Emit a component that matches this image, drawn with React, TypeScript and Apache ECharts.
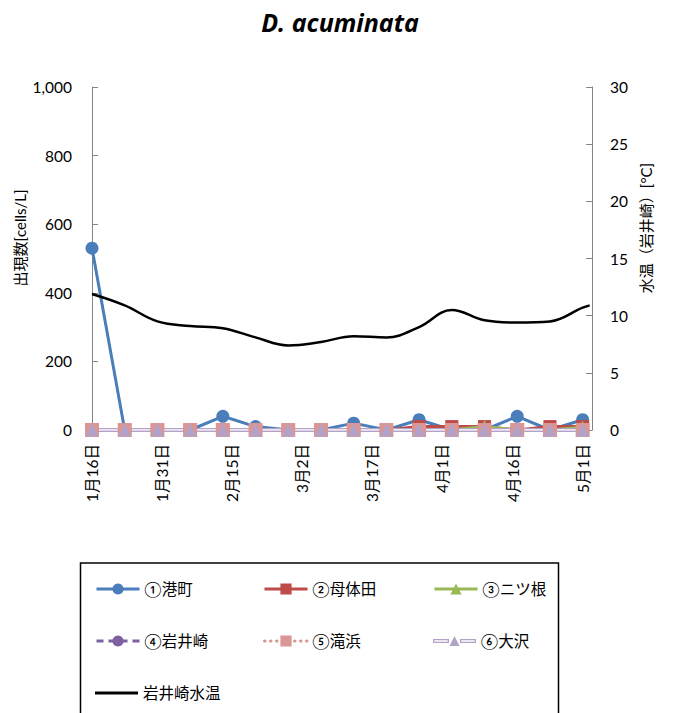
import React, { useEffect, useRef } from "react";
import * as echarts from "echarts";

// Sampling days counted from 1月16日 (weekly)
const sampleDays = [0, 7, 14, 21, 28, 35, 42, 49, 56, 63, 70, 77, 84, 91, 98, 105];
const minatomachi = [530, 0, 0, 0, 40, 10, 0, 0, 20, 0, 30, 0, 0, 40, 0, 30];
const motaida = [0, 0, 0, 0, 0, 0, 0, 0, 0, 0, 10, 10, 10, 0, 10, 10];
const futatsune = [0, 0, 0, 0, 0, 0, 0, 0, 0, 0, 0, 0, 10, 0, 0, 8];
const iwaisaki = [0, 0, 0, 0, 0, 0, 0, 0, 0, 0, 0, 0, 0, 0, 0, 0];
const takihama = [0, 0, 0, 0, 0, 0, 0, 0, 0, 0, 0, 0, 0, 0, 0, 0];
const osawa = [0, 0, 0, 0, 0, 0, 0, 0, 0, 0, 0, 0, 0, 0, 0, 0];

const tempDays = [0, 7, 14, 21, 28, 35, 42, 49, 56, 63, 70, 77, 84, 91, 98, 105, 106.5];
const tempValues = [11.9, 10.9, 9.5, 9.1, 8.9, 8.1, 7.4, 7.7, 8.2, 8.1, 9.0, 10.5, 9.6, 9.4, 9.5, 10.7, 10.9];

const seriesNames = ["①港町", "②母体田", "③ニツ根", "④岩井崎", "⑤滝浜", "⑥大沢", "岩井崎水温"];
const titleText = "D. acuminata";
const leftAxisName = "出現数[cells/L]";
const rightAxisName = "水温（岩井崎）[°C]";

const FONT = "Lato, 'Noto Sans CJK JP', sans-serif";

function dayLabel(d: number): string {
  const dt = new Date(2015, 0, 16 + d);
  return `${dt.getMonth() + 1}月${dt.getDate()}日`;
}

function pairs(xs: number[], ys: number[]) {
  return xs.map((x, i) => [x, ys[i]]);
}

const osawaIcon =
  "path://M0,3 H16 V7 H0 Z M1.3,4.3 V5.7 H14.7 V4.3 Z M27,3 H43 V7 H27 Z M28.3,4.3 V5.7 H41.7 V4.3 Z M16.5,10 L21.5,0 L26.5,10 Z";
const tempIcon = "path://M0,0 H43 V3 H0 Z";

export default function App() {
  const ref = useRef<HTMLDivElement>(null);
  useEffect(() => {
    if (!ref.current) return;
    const chart = echarts.init(ref.current, undefined, { renderer: "svg" });

    const colX = [95, 263, 433];
    const rowY = [589, 641, 693];
    const legendPos = [
      [0, 0], [1, 0], [2, 0],
      [0, 1], [1, 1], [2, 1],
      [0, 2],
    ];
    const legends = seriesNames.map((name, i) => {
      const [c, r] = legendPos[i];
      const item: any = { name };
      if (i === 5) {
        item.icon = osawaIcon;
        item.itemStyle = { color: "#B3A2C7", borderWidth: 0 };
      }
      if (i === 6) {
        item.icon = tempIcon;
        item.itemStyle = { color: "#000000", borderWidth: 0 };
      }
      return {
        data: [item],
        left: colX[c],
        top: rowY[r] - 9,
        padding: 0,
        itemWidth: 43,
        itemHeight: 14,
        selectedMode: false,
        lineStyle: { width: 3 },
        textStyle: { fontSize: 15.5, color: "#000", fontFamily: FONT, lineHeight: 18 },
      };
    });

    const axisLineStyle = { color: "#868686", width: 1 };

    chart.setOption({
      animation: false,
      backgroundColor: "#ffffff",
      title: {
        text: titleText,
        left: 335,
        textAlign: "center",
        top: 4,
        textStyle: {
          fontSize: 25,
          fontStyle: "italic",
          fontWeight: "bold",
          color: "#000",
          fontFamily: "'Open Sans', sans-serif",
        },
      },
      legend: legends,
      grid: {
        left: 92,
        right: 88,
        top: 87,
        bottom: 283,
        containLabel: false,
        outerBoundsMode: "none",
      },
      xAxis: {
        type: "value",
        min: 0,
        max: 107,
        interval: 15,
        axisLine: { show: true, lineStyle: axisLineStyle },
        axisTick: { show: false },
        splitLine: { show: false },
        axisLabel: {
          rotate: 90,
          margin: 14,
          fontSize: 15.5,
          color: "#000",
          fontFamily: FONT,
          showMaxLabel: false,
          formatter: (v: number) => (Math.abs(v % 15) < 1e-6 ? dayLabel(v) : ""),
        },
      },
      yAxis: [
        {
          type: "value",
          position: "left",
          min: 0,
          max: 1000,
          interval: 200,
          axisLine: { show: true, lineStyle: axisLineStyle },
          axisTick: { show: true, inside: true, length: 6, lineStyle: axisLineStyle },
          splitLine: { show: false },
          axisLabel: {
            margin: 20,
            fontSize: 15.5,
            color: "#000",
            fontFamily: FONT,
            formatter: (v: number) => v.toLocaleString("en-US"),
          },
        },
        {
          type: "value",
          position: "right",
          min: 0,
          max: 30,
          interval: 5,
          axisLine: { show: true, lineStyle: axisLineStyle },
          axisTick: { show: true, inside: true, length: 6, lineStyle: axisLineStyle },
          splitLine: { show: false },
          axisLabel: { margin: 18, fontSize: 15.5, color: "#000", fontFamily: FONT },
        },
      ],
      graphic: [
        {
          type: "text",
          x: 20,
          y: 238,
          rotation: Math.PI / 2,
          style: {
            text: leftAxisName,
            fontSize: 15,
            fill: "#000",
            fontFamily: FONT,
            align: "center",
            verticalAlign: "middle",
          },
        },
        {
          type: "text",
          x: 646,
          y: 228,
          rotation: Math.PI / 2,
          style: {
            text: rightAxisName,
            fontSize: 15,
            fill: "#000",
            fontFamily: FONT,
            align: "center",
            verticalAlign: "middle",
          },
        },
        {
          type: "rect",
          shape: { x: 80.5, y: 563, width: 478, height: 170 },
          style: { fill: "none", stroke: "#000", lineWidth: 1.5 },
          silent: true,
        },
      ],
      series: [
        {
          name: seriesNames[0],
          type: "line",
          data: pairs(sampleDays, minatomachi),
          symbol: "circle",
          symbolSize: 13,
          lineStyle: { color: "#4A7EBB", width: 3 },
          itemStyle: { color: "#4A7EBB" },
        },
        {
          name: seriesNames[1],
          type: "line",
          data: pairs(sampleDays, motaida),
          symbol: "rect",
          symbolSize: 13,
          lineStyle: { color: "#BE4B48", width: 3 },
          itemStyle: { color: "#BE4B48" },
        },
        {
          name: seriesNames[2],
          type: "line",
          data: pairs(sampleDays, futatsune),
          symbol: "triangle",
          symbolSize: 13,
          lineStyle: { color: "#98B954", width: 3 },
          itemStyle: { color: "#98B954" },
        },
        {
          name: seriesNames[3],
          type: "line",
          data: pairs(sampleDays, iwaisaki),
          symbol: "circle",
          symbolSize: 13,
          lineStyle: { color: "#7D60A0", width: 3, type: [7, 5] },
          itemStyle: { color: "#7D60A0" },
        },
        {
          name: seriesNames[4],
          type: "line",
          data: pairs(sampleDays, takihama),
          symbol: "rect",
          symbolSize: 14,
          lineStyle: { color: "#D99694", width: 3, type: [0.5, 5.5], cap: "round" },
          itemStyle: { color: "#D99694" },
        },
        {
          name: "__osawa_outline",
          type: "line",
          data: pairs(sampleDays, osawa),
          symbol: "none",
          lineStyle: { color: "#B3A2C7", width: 4 },
          silent: true,
        },
        {
          name: seriesNames[5],
          type: "line",
          data: pairs(sampleDays, osawa),
          symbol: "triangle",
          symbolSize: 13,
          lineStyle: { color: "#ffffff", width: 1.6 },
          itemStyle: { color: "#B3A2C7" },
        },
        {
          name: seriesNames[6],
          type: "line",
          yAxisIndex: 1,
          data: pairs(tempDays, tempValues),
          symbol: "none",
          smooth: 0.4,
          lineStyle: { color: "#000000", width: 2.5 },
          itemStyle: { color: "#000000" },
        },
      ],
    });
    return () => chart.dispose();
  }, []);

  return (
    <div
      ref={ref}
      style={{ position: "absolute", left: 0, top: 0, width: 680, height: 713 }}
    />
  );
}
